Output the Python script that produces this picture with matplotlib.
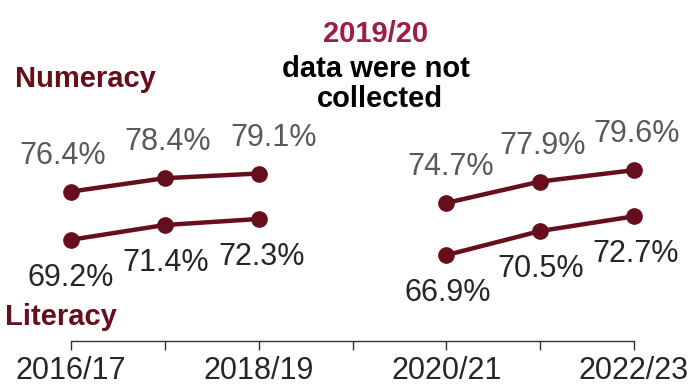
import numpy as np
import matplotlib
matplotlib.use("Agg")
import matplotlib.pyplot as plt

plt.rcParams['font.family'] = ['Liberation Sans', 'DejaVu Sans']

# school years, 2019/20 left empty (no collection that year)
years = ["2016/17", "2017/18", "2018/19", "2019/20", "2020/21", "2021/22", "2022/23"]
shown_years = ["2016/17", "2018/19", "2020/21", "2022/23"]
numeracy = [76.4, 78.4, 79.1, np.nan, 74.7, 77.9, 79.6]
literacy = [69.2, 71.4, 72.3, np.nan, 66.9, 70.5, 72.7]

MAROON = "#670e1d"
ROSE = "#9e1b4c"

# small horizontal nudges for the value labels (pixels)
num_dx = [-8, 3, 15, 0, 4, 2, 3]
lit_dx = [0, 1, 3, 0, 1, 1, 2]

fig = plt.figure(figsize=(6.91, 3.87), dpi=100)
ax = fig.add_axes([71 / 691, 1 - 341.4 / 387, 563 / 691, 307.7 / 387])

x = np.arange(len(years))
for vals in (numeracy, literacy):
    ax.plot(x, vals, color=MAROON, lw=3.2, marker="o", ms=11,
            solid_capstyle="round", zorder=3, clip_on=False)

for i, v in enumerate(numeracy):
    if np.isnan(v):
        continue
    ax.annotate(f"{v:.1f}%", (x[i], v), xytext=(num_dx[i], 36),
                textcoords="offset pixels", ha="center", va="center",
                fontsize=22, color="#595959")

for i, v in enumerate(literacy):
    if np.isnan(v):
        continue
    ax.annotate(f"{v:.1f}%", (x[i], v), xytext=(lit_dx[i], -38),
                textcoords="offset pixels", ha="center", va="center",
                fontsize=22, color="#262626")

ax.set_xlim(0, len(years) - 1)
ax.set_ylim(54, 100)
ax.set_xticks(x)
ax.set_xticklabels([y if y in shown_years else "" for y in years])
ax.tick_params(axis="x", direction="out", length=6.5, width=1,
               color="#333333", labelsize=22, labelcolor="#262626", pad=4)
ax.set_yticks([])
for side in ("top", "right", "left"):
    ax.spines[side].set_visible(False)
ax.spines["bottom"].set_color("#333333")
ax.spines["bottom"].set_linewidth(1)

# series names
fig.text(15 / 691, 1 - 87 / 387, "Numeracy", fontsize=21, fontweight="bold",
         color=MAROON, ha="left", va="baseline")
fig.text(5 / 691, 1 - 325 / 387, "Literacy", fontsize=21, fontweight="bold",
         color=MAROON, ha="left", va="baseline")

# note on the missing year
fig.text(376 / 691, 1 - 42 / 387, "2019/20", fontsize=21, fontweight="bold",
         color=ROSE, ha="center", va="baseline")
fig.text(376 / 691, 1 - 77 / 387, "data were not", fontsize=21,
         fontweight="bold", color="black", ha="center", va="baseline")
fig.text(380 / 691, 1 - 107 / 387, "collected", fontsize=21,
         fontweight="bold", color="black", ha="center", va="baseline")

fig.savefig("out.png", dpi=100)
